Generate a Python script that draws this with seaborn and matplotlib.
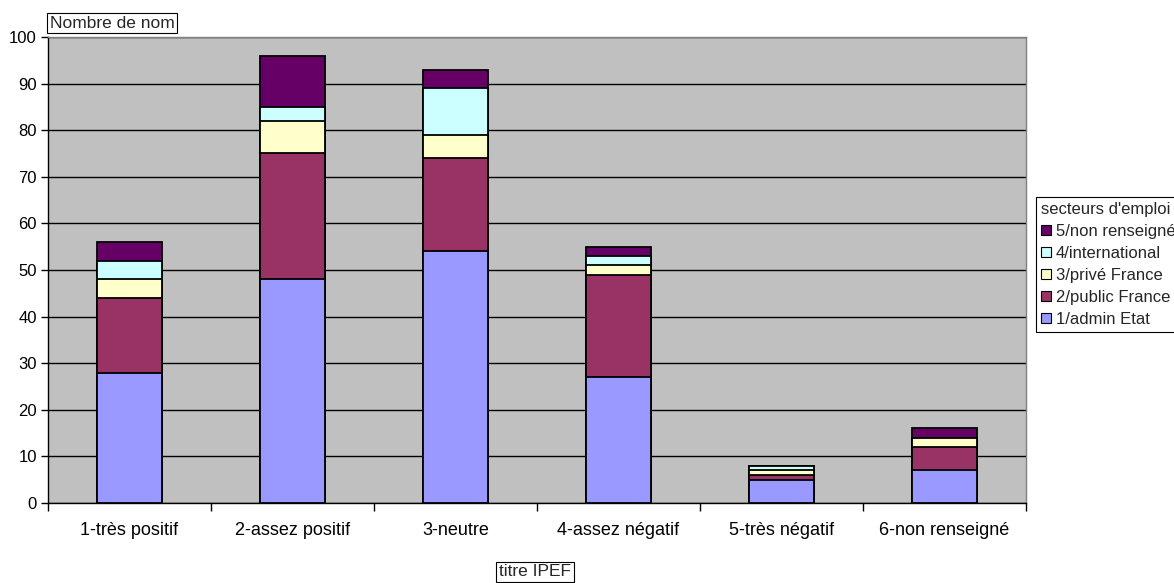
import matplotlib
matplotlib.use("Agg")
import matplotlib.pyplot as plt
import pandas as pd
import seaborn as sns
from matplotlib.patches import Patch
from matplotlib.lines import Line2D

categories = ["1-très positif", "2-assez positif", "3-neutre",
              "4-assez négatif", "5-très négatif", "6-non renseigné"]
admin_etat = [28, 48, 54, 27, 5, 7]
public_france = [16, 27, 20, 22, 1, 5]
prive_france = [4, 7, 5, 2, 1, 2]
international = [4, 3, 10, 2, 1, 0]
non_renseigne = [4, 11, 4, 2, 0, 2]
series_names = ["1/admin Etat", "2/public France", "3/privé France",
                "4/international", "5/non renseigné"]
colors = ["#9999FF", "#993366", "#FFFFCC", "#CCFFFF", "#660066"]
yticks = list(range(0, 101, 10))

sns.set_theme(style="white")
plt.rcParams["font.family"] = ["Liberation Sans", "DejaVu Sans"]

W, H = 1174, 583
fig = plt.figure(figsize=(W / 100, H / 100), dpi=100)
ax = fig.add_axes([48 / W, 80 / H, 978 / W, 466 / H])
ax.set_facecolor("#C0C0C0")

df = pd.DataFrame({
    "categorie": categories,
    series_names[0]: admin_etat,
    series_names[1]: public_france,
    series_names[2]: prive_france,
    series_names[3]: international,
    series_names[4]: non_renseigne,
})
stacked = df[series_names].cumsum(axis=1)
stacked["categorie"] = df["categorie"]

# stacked columns: draw the cumulative totals from the top series down
for name, color in reversed(list(zip(series_names, colors))):
    sns.barplot(data=stacked, x="categorie", y=name, order=categories,
                color=color, saturation=1, edgecolor="black", linewidth=1.3,
                width=0.4, ax=ax, zorder=3)

ax.set_xlim(-0.5, 5.5)
ax.set_ylim(0, 100)
ax.set_xlabel("")
ax.set_ylabel("")

ax.set_yticks(yticks)
ax.set_yticklabels([str(v) for v in yticks], fontsize=12, color="black")
ax.yaxis.grid(True, color="black", linewidth=1)
ax.set_axisbelow(True)

# category labels centred, tick marks between categories
ax.set_xticks([i - 0.5 for i in range(len(categories) + 1)])
ax.set_xticklabels([""] * (len(categories) + 1))
ax.set_xticks(range(len(categories)), minor=True)
ax.set_xticklabels(categories, minor=True, fontsize=13, color="black")
ax.tick_params(axis="x", which="minor", length=0, pad=14)
ax.tick_params(axis="x", which="major", direction="out", length=6,
               width=1, color="black", bottom=True)
ax.tick_params(axis="y", direction="out", length=5, width=1,
               color="black", left=True, pad=3)

for side in ("left", "bottom"):
    ax.spines[side].set_color("black")
    ax.spines[side].set_linewidth(1)
for side in ("top", "right"):
    ax.spines[side].set_color("#808080")
    ax.spines[side].set_linewidth(1)

box = dict(facecolor="white", edgecolor="black", boxstyle="square,pad=0.15",
           linewidth=0.8)
fig.text(50 / W, 1 - 23 / H, "Nombre de nom", fontsize=12.5,
         ha="left", va="center", bbox=box)
fig.text(535 / W, 1 - 572 / H, "titre IPEF", fontsize=12.5,
         ha="center", va="center", bbox=box)

handles = [Patch(facecolor=c, edgecolor="black", linewidth=0.8, label=n)
           for n, c in zip(series_names, colors)][::-1]
leg = fig.legend(handles=handles, title="secteurs d'emploi",
                 loc="upper left", bbox_to_anchor=(1036 / W, 1 - 197 / H),
                 fontsize=12, title_fontsize=12, frameon=True,
                 fancybox=False, edgecolor="black", framealpha=1,
                 handlelength=0.6, handleheight=0.6, handletextpad=0.3,
                 labelspacing=0.42, borderpad=0.3, borderaxespad=0)
leg.get_frame().set_linewidth(0.8)
leg._legend_box.align = "left"

fig.canvas.draw()
renderer = fig.canvas.get_renderer()
tb = leg.get_title().get_window_extent(renderer)
fb = leg.get_frame().get_window_extent(renderer)
y_sep = (tb.y0 - 2) / fig.bbox.height
fig.add_artist(Line2D([fb.x0 / fig.bbox.width, fb.x1 / fig.bbox.width],
                      [y_sep, y_sep], color="black", linewidth=0.8,
                      transform=fig.transFigure))

fig.savefig("out.png", dpi=100, facecolor="white")
